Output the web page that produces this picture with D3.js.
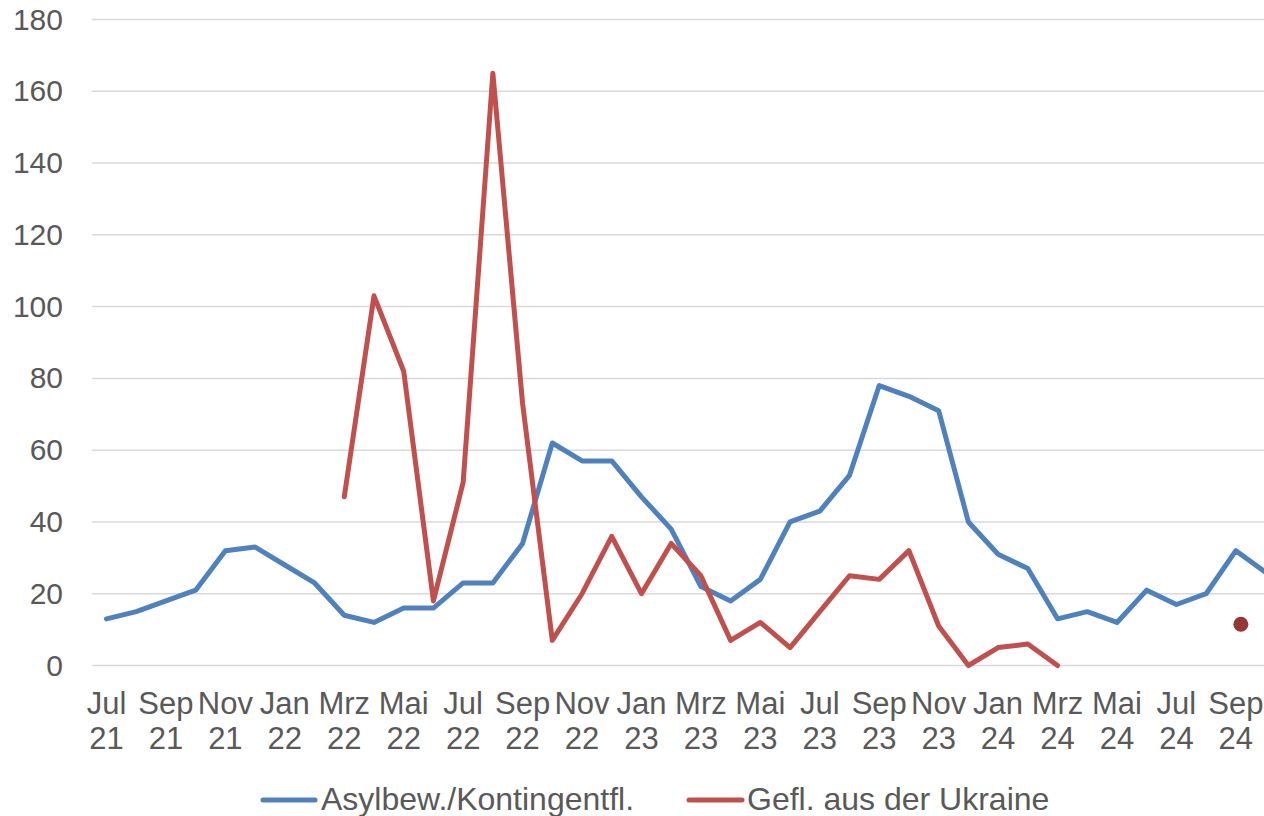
<!DOCTYPE html>
<html>
<head>
<meta charset="utf-8">
<script src="https://cdnjs.cloudflare.com/ajax/libs/d3/7.8.5/d3.min.js"></script>
<style>
  html, body { margin: 0; padding: 0; background: #fff; }
  svg { display: block; font-family: "Liberation Sans", Arial, sans-serif; }
</style>
</head>
<body>
<svg id="chart" width="1264" height="816"></svg>
<script>
// Monthly values, Jul 21 .. Okt 24
const monthNames = ['Jan', 'Feb', 'Mrz', 'Apr', 'Mai', 'Jun', 'Jul', 'Aug', 'Sep', 'Okt', 'Nov', 'Dez'];
const months = d3.range(40).map((i) => {
  const m = (6 + i) % 12;
  const y = 21 + Math.floor((6 + i) / 12);
  return { name: monthNames[m], year: String(y) };
});

const asylbew = [13, 15, 18, 21, 32, 33, 28, 23, 14, 12, 16, 16, 23, 23, 34, 62,
  57, 57, 47, 38, 22, 18, 24, 40, 43, 53, 78, 75, 71, 40, 31, 27,
  13, 15, 12, 21, 17, 20, 32, 26];

// Ukraine series starts Mrz 22 (index 8), ends Mrz 24 (index 32)
const ukraine = [null, null, null, null, null, null, null, null,
  47, 103, 82, 18, 51, 165, 73, 7, 20, 36, 20, 34, 25, 7, 12, 5, 15, 25, 24, 32, 11, 0, 5, 6, 0,
  null, null, null, null, null, null, null];

// single marker point at Sep 24
const ukraineDot = [{ index: 38, value: 11.5 }];

const yTicks = [0, 20, 40, 60, 80, 100, 120, 140, 160, 180];

const seriesNames = ['Asylbew./Kontingentfl.', 'Gefl. aus der Ukraine'];
const colors = ['#4f81bd', '#c0504d'];

const svg = d3.select('#chart');

const x = d3.scalePoint()
  .domain(d3.range(months.length))
  .range([106.5, 106.5 + 39 * 29.72]);

const y = d3.scaleLinear()
  .domain([0, 180])
  .range([665.5, 19.5]);

// Gridlines
svg.append('g')
  .selectAll('line')
  .data(yTicks)
  .enter().append('line')
  .attr('x1', 92)
  .attr('x2', 1264)
  .attr('y1', (d) => y(d))
  .attr('y2', (d) => y(d))
  .style('stroke', '#d9d9d9')
  .style('stroke-width', 1.5);

// Y axis labels
const yAxis = d3.axisLeft(y).tickValues(yTicks).tickSize(0).tickPadding(0);
svg.append('g')
  .attr('transform', 'translate(63,0)')
  .call(yAxis)
  .call((g) => g.select('.domain').remove())
  .selectAll('text')
  .attr('x', 0)
  .style('font-size', '30px')
  .style('font-family', '"Liberation Sans", Arial, sans-serif')
  .style('fill', '#595959');

// X axis labels (every second month, two lines)
const xTicks = d3.range(0, 39, 2);
const xLab = svg.append('g')
  .selectAll('text')
  .data(xTicks)
  .enter().append('text')
  .attr('x', (d) => x(d))
  .attr('y', 714)
  .style('text-anchor', 'middle')
  .style('font-size', '31px')
  .style('fill', '#595959');
xLab.append('tspan')
  .attr('x', (d) => x(d))
  .text((d) => months[d].name);
xLab.append('tspan')
  .attr('x', (d) => x(d))
  .attr('dy', 35)
  .text((d) => months[d].year);

// Lines
const line = d3.line()
  .defined((d) => d != null)
  .x((d, i) => x(i))
  .y((d) => y(d));

[asylbew, ukraine].forEach((data, k) => {
  svg.append('path')
    .datum(data)
    .attr('d', line)
    .style('fill', 'none')
    .style('stroke', colors[k])
    .style('stroke-width', 5)
    .style('stroke-linejoin', 'round')
    .style('stroke-linecap', 'round');
});

svg.append('g')
  .selectAll('circle')
  .data(ukraineDot)
  .enter().append('circle')
  .attr('cx', (d) => x(d.index) + 5)
  .attr('cy', (d) => y(d.value))
  .attr('r', 7.5)
  .style('fill', '#953735');

// Legend
const legendPos = [{ x1: 263, x2: 315, tx: 321 }, { x1: 689, x2: 742, tx: 747 }];
const legend = svg.append('g')
  .selectAll('g')
  .data(seriesNames)
  .enter().append('g');
legend.append('line')
  .attr('x1', (d, i) => legendPos[i].x1)
  .attr('x2', (d, i) => legendPos[i].x2)
  .attr('y1', 800)
  .attr('y2', 800)
  .style('stroke', (d, i) => colors[i])
  .style('stroke-width', 5)
  .style('stroke-linecap', 'round');
legend.append('text')
  .attr('x', (d, i) => legendPos[i].tx)
  .attr('y', 810)
  .style('font-size', '32px')
  .style('fill', '#595959')
  .text((d) => d);
</script>
</body>
</html>
